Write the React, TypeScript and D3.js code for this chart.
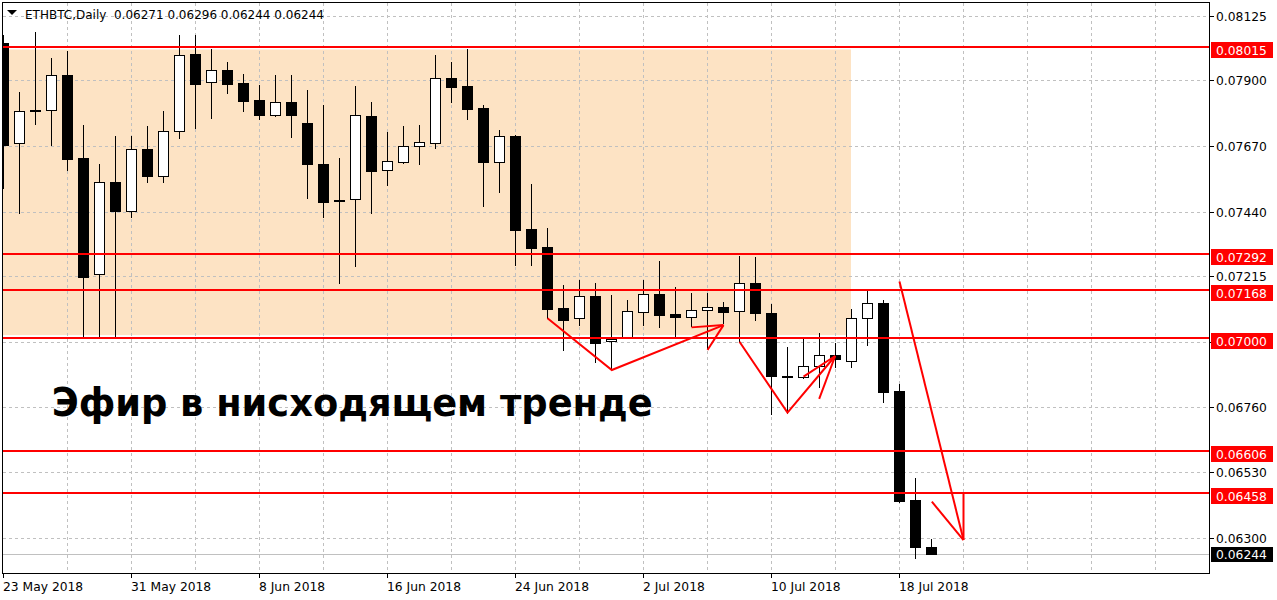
import React from "react";
import * as d3 from "d3";

// ---- Data ----
const startDate = "23 May 2018";
const opens = [0.08031,0.07681,0.07797,0.07796,0.07918,0.07629,0.07223,0.07544,0.07445,0.07660,
0.07565,0.07722,0.07992,0.07894,0.07935,0.07891,0.07832,0.07780,0.07825,0.07750,
0.07608,0.07482,0.07485,0.07776,0.07586,0.07616,0.07671,0.07680,0.07908,0.07880,
0.07804,0.07616,0.07706,0.07381,0.07318,0.07104,0.07069,0.07147,0.06988,0.07004,
0.07092,0.07153,0.07084,0.07072,0.07097,0.07107,0.07093,0.07191,0.07086,0.06867,
0.06863,0.06901,0.06939,0.06918,0.07069,0.07122,0.06814,0.06434,0.06271];
const highs = [0.08059,0.07860,0.08069,0.07977,0.08004,0.07744,0.07608,0.07706,0.07706,0.07741,
0.07793,0.08059,0.08059,0.08010,0.07964,0.07922,0.07884,0.07919,0.07919,0.07866,
0.07814,0.07628,0.07880,0.07825,0.07720,0.07741,0.07744,0.07989,0.07964,0.08009,
0.07813,0.07727,0.07709,0.07538,0.07384,0.07185,0.07203,0.07192,0.07150,0.07133,
0.07203,0.07269,0.07178,0.07156,0.07156,0.07125,0.07286,0.07282,0.07119,0.06967,
0.06996,0.07016,0.06981,0.07100,0.07165,0.07133,0.06838,0.06510,0.06296];
const lows = [0.07524,0.07437,0.07748,0.07674,0.07587,0.07001,0.07001,0.07001,0.07424,0.07546,
0.07546,0.07698,0.07733,0.07768,0.07857,0.07794,0.07764,0.07777,0.07703,0.07490,
0.07424,0.07193,0.07253,0.07436,0.07535,0.07612,0.07609,0.07665,0.07826,0.07764,
0.07462,0.07511,0.07255,0.07255,0.07069,0.06958,0.07046,0.06917,0.06895,0.07003,
0.07046,0.07039,0.07008,0.07042,0.06965,0.07052,0.06987,0.07063,0.06733,0.06737,
0.06860,0.06830,0.06900,0.06898,0.06976,0.06777,0.06428,0.06230,0.06244];
const closes = [0.07674,0.07793,0.07795,0.07918,0.07626,0.07214,0.07544,0.07445,0.07659,0.07567,
0.07722,0.07988,0.07886,0.07935,0.07888,0.07829,0.07780,0.07823,0.07780,0.07607,
0.07476,0.07479,0.07778,0.07585,0.07617,0.07670,0.07684,0.07907,0.07878,0.07801,
0.07616,0.07705,0.07378,0.07315,0.07102,0.07064,0.07147,0.06984,0.06996,0.07093,
0.07153,0.07081,0.07074,0.07097,0.07109,0.07092,0.07191,0.07086,0.06868,0.06864,
0.06901,0.06939,0.06925,0.07069,0.07121,0.06812,0.06431,0.06271,0.06244];

const dateLabels = ["23 May 2018","31 May 2018","8 Jun 2018","16 Jun 2018","24 Jun 2018","2 Jul 2018","10 Jul 2018","18 Jul 2018"];
const dateLabelIndex = [0, 8, 16, 24, 32, 40, 48, 56];
const priceTicks = [0.08125, 0.079, 0.0767, 0.0744, 0.07215, 0.06985, 0.0676, 0.0653, 0.063];
const levels = [0.08015, 0.07292, 0.07168, 0.07, 0.06606, 0.06458];
const lastPrice = 0.06244;
const zone = { i0: -5, i1: 53, top: 0.08008, bottom: 0.0701 };
const arrows: [number, number][][] = [
  [[34, 0.07069], [38.02, 0.06888], [45, 0.07045]],
  [[43, 0.07037], [45, 0.07045]],
  [[44, 0.06958], [45, 0.07045]],
  [[46, 0.06987], [49, 0.06739], [51.98, 0.06937]],
  [[50, 0.06865], [51.98, 0.06937]],
  [[50.98, 0.06787], [51.98, 0.06937]],
  [[56, 0.07197], [60, 0.06294]],
  [[60, 0.06457], [60, 0.06294]],
  [[58.02, 0.06428], [60, 0.06294]],
];
const title = "ETHBTC,Daily  0.06271 0.06296 0.06244 0.06244";
const caption = "Эфир в нисходящем тренде";

// ---- Layout ----
const W = 1277, H = 600;
const L = 2.5, R = 1209.5, T = 2.5, B = 573.5;
const FONT = "Tahoma, 'DejaVu Sans', sans-serif";
const FS = 12.3;

export default function App() {
  const x = d3.scaleLinear().domain([0, 58]).range([3, 3 + 16 * 58]);
  const y = d3.scaleLinear().domain([0.08125, 0.063]).range([16, 538.3]);
  const n = opens.length;
  const candles = d3.range(n).map((i) => {
    const o = opens[i], c = closes[i];
    const bull = c > o;
    const cx = Math.round(x(i));
    const yt = Math.round(y(Math.max(o, c)));
    const yb = Math.round(y(Math.min(o, c)));
    const yh = Math.round(y(highs[i]));
    const yl = Math.round(y(lows[i]));
    return { i, bull, cx, yt, yb, yh, yl };
  });
  const line = d3.line<[number, number]>().x((d) => x(d[0]) + 0.5).y((d) => y(d[1]));
  const gridX = d3.range(4, 76, 4).map((i) => Math.round(x(i)) + 0.5);
  const levelYs = levels.map((v) => Math.round(y(v)));

  return (
    <div style={{ position: "absolute", left: 0, top: 0 }}>
      <svg width={W} height={H} style={{ display: "block", background: "#fff" }}>
        <defs>
          <clipPath id="plot">
            <rect x={3} y={3} width={R - 3.5} height={B - 3.5} />
          </clipPath>
        </defs>
        <g clipPath="url(#plot)">
          <rect x={x(zone.i0)} y={y(zone.top)} width={x(zone.i1) - x(zone.i0)} height={y(zone.bottom) - y(zone.top)} fill="#FDE3C4" />
          {priceTicks.map((v) => (
            <line key={"gy" + v} x1={3} x2={R} y1={Math.round(y(v)) + 0.5} y2={Math.round(y(v)) + 0.5} stroke="#c0c0c0" strokeDasharray="3,3" shapeRendering="crispEdges" />
          ))}
          {gridX.map((gx) => (
            <line key={"gx" + gx} x1={gx} x2={gx} y1={3} y2={B} stroke="#c0c0c0" strokeDasharray="3,3" shapeRendering="crispEdges" />
          ))}
          <line x1={3} x2={R} y1={Math.round(y(lastPrice)) + 0.5} y2={Math.round(y(lastPrice)) + 0.5} stroke="#c0c0c0" shapeRendering="crispEdges" />
          {candles.map((c) => (
            <g key={"c" + c.i} shapeRendering="crispEdges">
              <line x1={c.cx + 0.5} x2={c.cx + 0.5} y1={c.yh} y2={c.yl + 1} stroke="#000" />
              {c.bull ? (
                <rect x={c.cx - 4.5} y={c.yt + 0.5} width={10} height={Math.max(c.yb - c.yt, 2)} fill="#fff" stroke="#000" />
              ) : (
                <rect x={c.cx - 5} y={c.yt} width={11} height={Math.max(c.yb - c.yt + 1, 2)} fill="#000" />
              )}
            </g>
          ))}
          {levelYs.map((ly, k) => (
            <line key={"lv" + k} x1={3} x2={R} y1={ly} y2={ly} stroke="#ff0000" strokeWidth={2} shapeRendering="crispEdges" />
          ))}
          {arrows.map((a, k) => (
            <path key={"ar" + k} d={line(a) || ""} fill="none" stroke="#ff0000" strokeWidth={2} />
          ))}
          <text x={51.7} y={416} fontFamily="'DejaVu Sans', sans-serif" fontWeight="bold" fontSize={39} textLength={601} lengthAdjust="spacingAndGlyphs" fill="#000">
            {caption}
          </text>
        </g>
        {/* frame */}
        <rect x={L} y={T} width={R - L} height={B - T} fill="none" stroke="#000" shapeRendering="crispEdges" />
        {/* header */}
        <path d="M7,10 L17,10 L12,15 Z" fill="#000" />
        <text x={25} y={19} fontFamily={FONT} fontSize={12} fill="#000" style={{ whiteSpace: "pre" }}>{title}</text>
        {/* price axis */}
        {priceTicks.map((v) => {
          const ty = Math.round(y(v)) + 0.5;
          const hidden = levelYs.some((ly) => Math.abs(ty - (ly + 3)) < 13);
          return (
            <g key={"pt" + v}>
              <line x1={R} x2={R + 4} y1={ty} y2={ty} stroke="#000" shapeRendering="crispEdges" />
              {!hidden && (
                <text x={1216} y={ty + 4.5} fontFamily={FONT} fontSize={FS} fill="#000">{v.toFixed(5)}</text>
              )}
            </g>
          );
        })}
        {levels.map((v, k) => (
          <g key={"lb" + k}>
            <rect x={1211} y={levelYs[k] - 5} width={62} height={16} fill="#ff0000" />
            <text x={1216} y={levelYs[k] + 7.5} fontFamily={FONT} fontSize={FS} fill="#fff">{v.toFixed(5)}</text>
          </g>
        ))}
        <rect x={1211} y={Math.round(y(lastPrice)) - 7} width={62} height={15} fill="#000" />
        <text x={1216} y={Math.round(y(lastPrice)) + 5} fontFamily={FONT} fontSize={FS} fill="#fff">{lastPrice.toFixed(5)}</text>
        {/* time axis */}
        {dateLabelIndex.map((di, k) => {
          const tx = Math.round(x(di)) + 0.5;
          return (
            <g key={"dl" + k}>
              <line x1={tx} x2={tx} y1={B} y2={B + 4} stroke="#000" shapeRendering="crispEdges" />
              <text x={tx - 0.5} y={591} fontFamily={FONT} fontSize={FS} fill="#000">{dateLabels[k]}</text>
            </g>
          );
        })}
      </svg>
    </div>
  );
}
